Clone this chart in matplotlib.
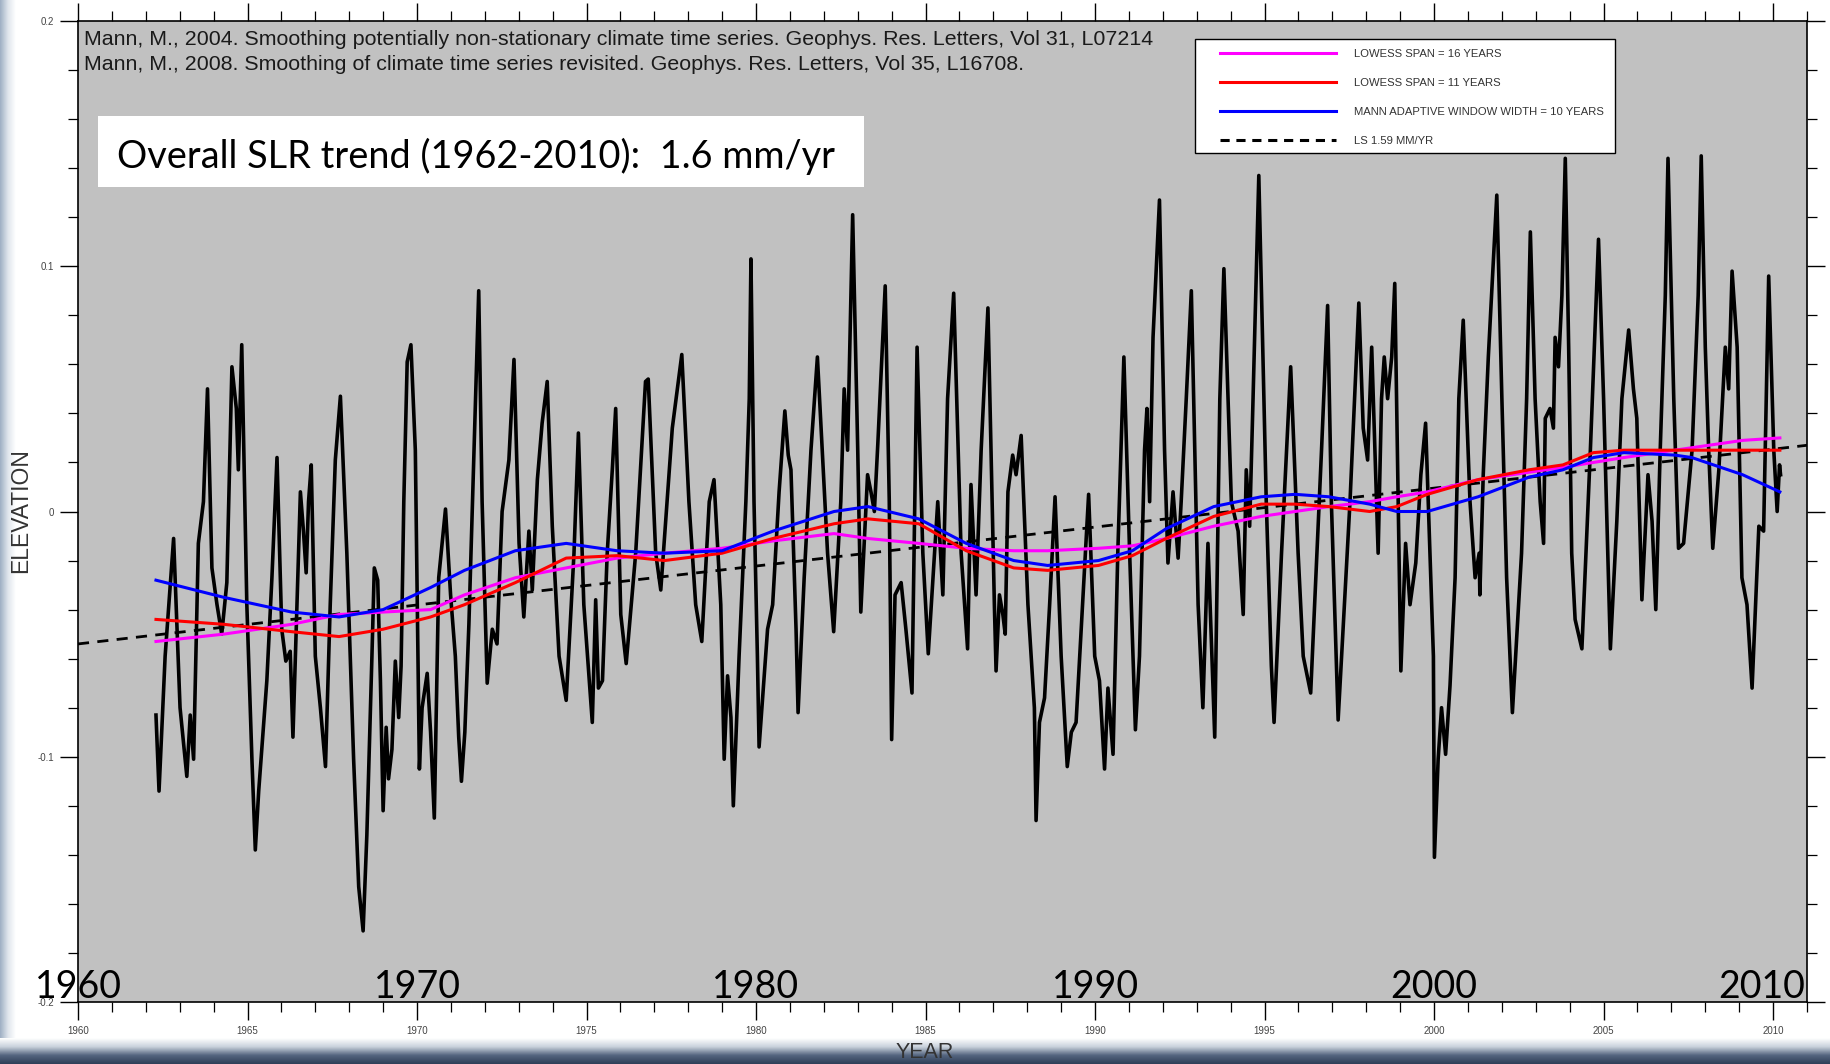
import matplotlib
matplotlib.use("Agg")
import matplotlib.pyplot as plt
import numpy as np
from matplotlib.colors import LinearSegmentedColormap
from matplotlib.lines import Line2D
from matplotlib.patches import Rectangle
from matplotlib.ticker import MultipleLocator

plt.rcParams["font.family"] = ["Liberation Sans", "DejaVu Sans"]

# monthly sea level anomaly (year, elevation)
years = [
    1962.30, 1962.39, 1962.57, 1962.82, 1963.01, 1963.21, 1963.31, 1963.41, 1963.55, 1963.70,
    1963.82, 1963.95, 1964.10, 1964.24, 1964.39, 1964.54, 1964.67, 1964.73, 1964.83, 1964.98,
    1965.13, 1965.23, 1965.33, 1965.42, 1965.57, 1965.72, 1965.87, 1966.01, 1966.13, 1966.26,
    1966.34, 1966.46, 1966.56, 1966.65, 1966.73, 1966.80, 1966.88, 1967.00, 1967.15, 1967.30,
    1967.44, 1967.59, 1967.74, 1967.93, 1968.13, 1968.28, 1968.41, 1968.52, 1968.67, 1968.74,
    1968.84, 1968.92, 1969.00, 1969.09, 1969.16, 1969.26, 1969.36, 1969.46, 1969.53, 1969.61,
    1969.71, 1969.82, 1969.95, 1970.07, 1970.15, 1970.30, 1970.40, 1970.51, 1970.64, 1970.84,
    1970.99, 1971.13, 1971.23, 1971.31, 1971.41, 1971.53, 1971.68, 1971.82, 1971.92, 1972.07,
    1972.22, 1972.36, 1972.51, 1972.71, 1972.86, 1973.01, 1973.15, 1973.30, 1973.40, 1973.55,
    1973.69, 1973.84, 1973.99, 1974.19, 1974.40, 1974.63, 1974.76, 1974.92, 1975.17, 1975.27,
    1975.35, 1975.47, 1975.61, 1975.76, 1975.86, 1976.01, 1976.17, 1976.45, 1976.74, 1976.82,
    1977.04, 1977.19, 1977.53, 1977.81, 1978.02, 1978.22, 1978.40, 1978.62, 1978.76, 1978.96,
    1979.06, 1979.16, 1979.26, 1979.33, 1979.50, 1979.70, 1979.80, 1979.85, 1979.94, 1980.04,
    1980.09, 1980.34, 1980.49, 1980.68, 1980.85, 1980.95, 1981.03, 1981.18, 1981.24, 1981.42,
    1981.62, 1981.81, 1982.11, 1982.29, 1982.50, 1982.60, 1982.70, 1982.85, 1983.00, 1983.09,
    1983.29, 1983.39, 1983.49, 1983.59, 1983.81, 1983.93, 1984.00, 1984.10, 1984.28, 1984.42,
    1984.60, 1984.75, 1984.92, 1985.08, 1985.36, 1985.51, 1985.65, 1985.83, 1986.05, 1986.24,
    1986.34, 1986.49, 1986.64, 1986.84, 1987.03, 1987.08, 1987.18, 1987.28, 1987.35, 1987.43,
    1987.57, 1987.67, 1987.82, 1988.02, 1988.21, 1988.26, 1988.36, 1988.51, 1988.66, 1988.82,
    1989.00, 1989.18, 1989.30, 1989.44, 1989.59, 1989.81, 1989.99, 1990.13, 1990.28, 1990.38,
    1990.53, 1990.67, 1990.85, 1991.02, 1991.19, 1991.31, 1991.46, 1991.53, 1991.61, 1991.71,
    1991.90, 1992.05, 1992.15, 1992.30, 1992.45, 1992.54, 1992.69, 1992.84, 1993.04, 1993.18,
    1993.33, 1993.53, 1993.68, 1993.80, 1994.02, 1994.22, 1994.37, 1994.46, 1994.56, 1994.66,
    1994.83, 1995.05, 1995.20, 1995.28, 1995.50, 1995.77, 1995.99, 1996.14, 1996.36, 1996.68,
    1996.86, 1996.97, 1997.17, 1997.52, 1997.78, 1997.91, 1998.04, 1998.16, 1998.35, 1998.45,
    1998.53, 1998.63, 1998.75, 1998.84, 1998.94, 1999.02, 1999.16, 1999.29, 1999.46, 1999.61,
    1999.75, 1999.88, 1999.98, 2000.01, 2000.12, 2000.22, 2000.34, 2000.47, 2000.62, 2000.73,
    2000.86, 2001.06, 2001.21, 2001.33, 2001.35, 2001.45, 2001.60, 2001.85, 2002.00, 2002.14,
    2002.31, 2002.58, 2002.73, 2002.84, 2002.98, 2003.13, 2003.23, 2003.28, 2003.42, 2003.52,
    2003.57, 2003.67, 2003.77, 2003.87, 2003.97, 2004.06, 2004.16, 2004.36, 2004.61, 2004.85,
    2005.00, 2005.20, 2005.39, 2005.54, 2005.74, 2005.88, 2005.98, 2006.13, 2006.31, 2006.43,
    2006.54, 2006.67, 2006.82, 2006.90, 2007.07, 2007.21, 2007.36, 2007.61, 2007.79, 2007.88,
    2008.00, 2008.10, 2008.22, 2008.40, 2008.59, 2008.69, 2008.79, 2008.94, 2009.08, 2009.23,
    2009.38, 2009.58, 2009.72, 2009.87, 2010.02, 2010.12, 2010.19, 2010.22,
]
elevation = [
    -0.083, -0.114, -0.059, -0.011, -0.080, -0.108, -0.083, -0.101, -0.013, 0.004,
    0.050, -0.023, -0.038, -0.050, -0.029, 0.059, 0.042, 0.017, 0.068, -0.038,
    -0.101, -0.138, -0.114, -0.097, -0.069, -0.027, 0.022, -0.048, -0.061, -0.057,
    -0.092, -0.038, 0.008, -0.008, -0.025, 0.004, 0.019, -0.059, -0.080, -0.104,
    -0.038, 0.021, 0.047, -0.017, -0.101, -0.153, -0.171, -0.132, -0.059, -0.023,
    -0.028, -0.069, -0.122, -0.088, -0.109, -0.097, -0.061, -0.084, -0.063, 0.004,
    0.061, 0.068, 0.025, -0.105, -0.080, -0.066, -0.090, -0.125, -0.027, 0.001,
    -0.034, -0.059, -0.092, -0.110, -0.090, -0.046, 0.025, 0.090, 0.004, -0.070,
    -0.048, -0.054, 0.000, 0.021, 0.062, -0.013, -0.043, -0.008, -0.032, 0.013,
    0.036, 0.053, -0.006, -0.059, -0.077, -0.017, 0.032, -0.038, -0.086, -0.036,
    -0.072, -0.069, -0.017, 0.017, 0.042, -0.042, -0.062, -0.017, 0.053, 0.054,
    -0.017, -0.032, 0.034, 0.064, 0.004, -0.038, -0.053, 0.004, 0.013, -0.038,
    -0.101, -0.067, -0.084, -0.120, -0.059, 0.004, 0.046, 0.103, 0.004, -0.059,
    -0.096, -0.048, -0.038, 0.008, 0.041, 0.023, 0.017, -0.048, -0.082, -0.027,
    0.025, 0.063, -0.017, -0.049, 0.004, 0.050, 0.025, 0.121, 0.025, -0.041,
    0.015, 0.008, 0.000, 0.027, 0.092, 0.004, -0.093, -0.034, -0.029, -0.048,
    -0.074, 0.067, -0.017, -0.058, 0.004, -0.034, 0.046, 0.089, -0.017, -0.056,
    0.011, -0.034, 0.025, 0.083, -0.038, -0.065, -0.034, -0.042, -0.050, 0.008,
    0.023, 0.015, 0.031, -0.038, -0.080, -0.126, -0.086, -0.076, -0.038, 0.006,
    -0.059, -0.104, -0.090, -0.086, -0.048, 0.007, -0.059, -0.069, -0.105, -0.072,
    -0.099, -0.017, 0.063, -0.017, -0.089, -0.059, 0.025, 0.042, 0.004, 0.071,
    0.127, 0.025, -0.021, 0.008, -0.019, 0.004, 0.046, 0.090, -0.038, -0.080,
    -0.013, -0.092, 0.046, 0.099, 0.004, -0.008, -0.042, 0.017, -0.006, 0.046,
    0.137, 0.004, -0.063, -0.086, -0.017, 0.059, -0.017, -0.059, -0.074, 0.025,
    0.084, 0.004, -0.085, 0.004, 0.085, 0.034, 0.021, 0.067, -0.017, 0.046,
    0.063, 0.046, 0.063, 0.093, 0.004, -0.065, -0.013, -0.038, -0.021, 0.015,
    0.036, -0.017, -0.059, -0.141, -0.101, -0.080, -0.099, -0.071, -0.027, 0.046,
    0.078, 0.004, -0.027, -0.017, -0.034, 0.015, 0.063, 0.129, 0.046, -0.027,
    -0.082, -0.017, 0.046, 0.114, 0.046, 0.004, -0.013, 0.038, 0.042, 0.034,
    0.071, 0.059, 0.088, 0.144, 0.067, -0.017, -0.044, -0.056, 0.025, 0.111,
    0.046, -0.056, -0.004, 0.046, 0.074, 0.050, 0.038, -0.036, 0.015, -0.004,
    -0.040, 0.025, 0.088, 0.144, 0.046, -0.015, -0.013, 0.025, 0.088, 0.145,
    0.067, 0.025, -0.015, 0.017, 0.067, 0.050, 0.098, 0.067, -0.027, -0.038,
    -0.072, -0.006, -0.008, 0.096, 0.025, 0.000, 0.019, 0.015,
]

# smoothed curves
smooth_years = [1962.3, 1964.3, 1966.3, 1967.7, 1969.0, 1970.4, 1971.4, 1972.9, 1974.4, 1975.9,
                1977.3, 1979.0, 1980.5, 1982.3, 1983.3, 1984.8, 1986.2, 1987.6, 1988.6, 1990.1,
                1991.1, 1992.1, 1993.5, 1994.9, 1995.9, 1996.9, 1998.1, 1998.9, 1999.8, 2001.3,
                2002.8, 2003.8, 2004.7, 2005.6, 2007.1, 2007.6, 2009.1, 2010.2]
lowess_16 = [-0.053, -0.050, -0.046, -0.042, -0.041, -0.040, -0.034, -0.027, -0.023, -0.019,
             -0.017, -0.015, -0.012, -0.009, -0.011, -0.013, -0.015, -0.016, -0.016, -0.015,
             -0.014, -0.011, -0.006, -0.002, 0.000, 0.002, 0.004, 0.006, 0.008, 0.013,
             0.016, 0.018, 0.020, 0.022, 0.025, 0.026, 0.029, 0.030]
lowess_11 = [-0.044, -0.046, -0.049, -0.051, -0.048, -0.043, -0.038, -0.029, -0.019, -0.018,
             -0.020, -0.017, -0.011, -0.005, -0.003, -0.005, -0.016, -0.023, -0.024, -0.022,
             -0.018, -0.011, -0.002, 0.003, 0.003, 0.002, 0.000, 0.002, 0.007, 0.013,
             0.017, 0.019, 0.024, 0.025, 0.025, 0.025, 0.025, 0.025]
mann_10 = [-0.028, -0.035, -0.041, -0.043, -0.040, -0.031, -0.024, -0.016, -0.013, -0.016,
           -0.017, -0.016, -0.008, 0.000, 0.002, -0.003, -0.013, -0.020, -0.022, -0.020,
           -0.016, -0.007, 0.002, 0.006, 0.007, 0.006, 0.003, 0.000, 0.000, 0.006,
           0.014, 0.017, 0.022, 0.024, 0.023, 0.022, 0.015, 0.008]

trend_years = [1960.0, 2011.0]
trend_values = [-0.054, 0.027]

legend_labels = [
    "LOWESS SPAN = 16 YEARS",
    "LOWESS SPAN = 11 YEARS",
    "MANN ADAPTIVE WINDOW WIDTH = 10 YEARS",
    "LS 1.59 MM/YR",
]
big_year_labels = ["1960", "1970", "1980", "1990", "2000", "2010"]
big_year_pos = [1960, 1970, 1980, 1990, 2000, 2009.65]
y_ticks = [-0.2, -0.1, 0.0, 0.1, 0.2]
y_tick_labels = ["-0.2", "-0.1", "0", "0.1", "0.2"]

W, H = 1831, 1064
AX_L, AX_R, AX_T, AX_B = 78, 1807, 21, 1002   # plot frame in pixels
AW, AH = AX_R - AX_L, AX_B - AX_T


def ax_xy(px, py):
    # pixel position -> axes fraction
    return (px - AX_L) / AW, (AX_B - py) / AH


fig = plt.figure(figsize=(W / 100, H / 100), dpi=100)
fig.patch.set_facecolor("white")

# slide decoration: bluish bottom band and left edge fade
band = fig.add_axes([0, 0, 1, 26 / H], zorder=0)
band_cmap = LinearSegmentedColormap.from_list("band", ["#2f3f58", "#54657f", "#c9d2dc", "#ffffff"])
band.imshow(np.linspace(0, 1, 64).reshape(-1, 1), aspect="auto", cmap=band_cmap, origin="lower",
            extent=[0, 1, 0, 1])
band.axis("off")
edge = fig.add_axes([0, 26 / H, 16 / W, 1 - 26 / H], zorder=0)
edge_cmap = LinearSegmentedColormap.from_list("edge", ["#9fb0c4", "#dfe5ec", "#ffffff"])
edge.imshow(np.linspace(0, 1, 32).reshape(1, -1), aspect="auto", cmap=edge_cmap, extent=[0, 1, 0, 1])
edge.axis("off")

ax = fig.add_axes([AX_L / W, 1 - AX_B / H, AW / W, AH / H], zorder=2)
ax.set_facecolor("#c1c1c1")

ax.plot(years, elevation, color="black", lw=2.6, zorder=3)
ax.plot(trend_years, trend_values, color="black", lw=2.0, ls=(0, (4, 3)), zorder=4)
ax.plot(smooth_years, lowess_16, color="#ff00ff", lw=2.2, zorder=5)
ax.plot(smooth_years, lowess_11, color="#ff0000", lw=2.2, zorder=6)
ax.plot(smooth_years, mann_10, color="#0000ff", lw=2.2, zorder=7)

ax.set_xlim(1960, 2011)
ax.set_ylim(-0.2, 0.2)
ax.xaxis.set_major_locator(MultipleLocator(5))
ax.xaxis.set_minor_locator(MultipleLocator(1))
ax.set_yticks(y_ticks)
ax.set_yticklabels(y_tick_labels)
ax.yaxis.set_minor_locator(MultipleLocator(0.02))
ax.tick_params(which="both", direction="out", top=True, right=True, color="black",
               labelsize=7, labelcolor="#444444")
ax.tick_params(which="major", length=13, width=1.0)
ax.tick_params(which="minor", length=7, width=0.9)
ax.tick_params(axis="x", pad=4)
ax.tick_params(axis="y", pad=4)
for s in ax.spines.values():
    s.set_linewidth(1.2)

ax.text(*ax_xy(84, 30),
        "Mann, M., 2004. Smoothing potentially non-stationary climate time series. Geophys. Res. Letters, Vol 31, L07214\n"
        "Mann, M., 2008. Smoothing of climate time series revisited. Geophys. Res. Letters, Vol 35, L16708.",
        transform=ax.transAxes, ha="left", va="top", fontsize=15.4, color="#1a1a1a",
        linespacing=1.42, zorder=8)

# white caption box
bx0, by0 = ax_xy(98, 187)
ax.add_patch(Rectangle((bx0, by0), 766 / AW, 71 / AH, transform=ax.transAxes,
                       facecolor="white", edgecolor="none", zorder=8))
ax.text(*ax_xy(117, 156), "Overall SLR trend (1962-2010):  1.6 mm/yr",
        transform=ax.transAxes, ha="left", va="center", fontsize=27.3, family=["Lato", "DejaVu Sans"],
        color="black", zorder=9)

for lab, xp in zip(big_year_labels, big_year_pos):
    ax.text(xp, -0.1985, lab, ha="center", va="baseline", fontsize=27,
            family=["Lato", "DejaVu Sans"], color="black", clip_on=False, zorder=9)

# legend: own frame, matplotlib legend inside it
lx0, ly0 = ax_xy(1195, 153)
ax.add_patch(Rectangle((lx0, ly0), 420 / AW, 114 / AH, transform=ax.transAxes,
                       facecolor="white", edgecolor="black", lw=1.0, zorder=10))
handles = [
    Line2D([], [], color="#ff00ff", lw=2.2),
    Line2D([], [], color="#ff0000", lw=2.2),
    Line2D([], [], color="#0000ff", lw=2.2),
    Line2D([], [], color="black", lw=2.2, ls=(0, (3, 2.2))),
]
leg = ax.legend(handles, legend_labels, loc="upper left", bbox_to_anchor=ax_xy(1220, 49),
                fontsize=8.1, handlelength=10.3, handletextpad=1.6, labelspacing=1.68, borderpad=0,
                borderaxespad=0, frameon=False)
leg.set_zorder(11)
for t in leg.get_texts():
    t.set_color("#333333")

fig.text(21 / W, 1 - 511 / H, "ELEVATION", rotation=90, ha="center", va="center",
         fontsize=16.5, color="#333333")
fig.text(925 / W, 1 - 1053 / H, "YEAR", ha="center", va="center", fontsize=15.5, color="#333333", zorder=5)

fig.savefig("out.png", dpi=100, facecolor=fig.get_facecolor())
